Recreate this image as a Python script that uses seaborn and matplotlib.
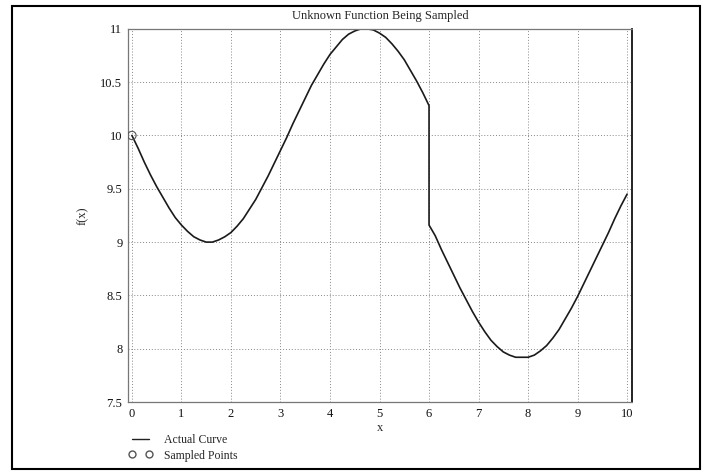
import matplotlib
matplotlib.use("Agg")
import matplotlib.pyplot as plt
import seaborn as sns
import pandas as pd
from matplotlib.patches import Rectangle
from matplotlib.lines import Line2D

# Curve values (jump at x = 6)
curve_x = [0, 0.125, 0.25, 0.375, 0.5, 0.625, 0.75, 0.875, 1.0, 1.125, 1.25, 1.375,
           1.5, 1.625, 1.75, 1.875, 2.0, 2.125, 2.25, 2.375, 2.5, 2.625, 2.75, 2.875,
           3.0, 3.125, 3.25, 3.375, 3.5, 3.625, 3.75, 3.875, 4.0, 4.125, 4.25, 4.375,
           4.5, 4.625, 4.75, 4.875, 5.0, 5.125, 5.25, 5.375, 5.5, 5.625, 5.75, 5.875,
           6.0,
           6.0, 6.125, 6.25, 6.375, 6.5, 6.625, 6.75, 6.875, 7.0, 7.125, 7.25, 7.375,
           7.5, 7.625, 7.75, 7.875, 8.0, 8.125, 8.25, 8.375, 8.5, 8.625, 8.75, 8.875,
           9.0, 9.125, 9.25, 9.375, 9.5, 9.625, 9.75, 9.875, 10.0]
curve_y = [10.0, 9.88, 9.75, 9.63, 9.52, 9.42, 9.32, 9.23, 9.16, 9.10, 9.05, 9.02,
           9.0, 9.0, 9.02, 9.05, 9.09, 9.15, 9.22, 9.31, 9.40, 9.51, 9.62, 9.74,
           9.86, 9.98, 10.11, 10.23, 10.35, 10.47, 10.57, 10.67, 10.76, 10.83, 10.9, 10.95,
           10.98, 11.0, 11.0, 10.99, 10.96, 10.92, 10.86, 10.79, 10.71, 10.61, 10.51, 10.4,
           10.28,
           9.16, 9.06, 8.93, 8.81, 8.69, 8.57, 8.46, 8.35, 8.25, 8.16, 8.08, 8.02,
           7.97, 7.94, 7.92, 7.92, 7.92, 7.94, 7.98, 8.03, 8.10, 8.18, 8.28, 8.38,
           8.49, 8.61, 8.73, 8.85, 8.97, 9.09, 9.22, 9.34, 9.45]
sample_x = [0]
sample_y = [10.0]

x_ticks = [0, 1, 2, 3, 4, 5, 6, 7, 8, 9, 10]
y_ticks = [7.5, 8, 8.5, 9, 9.5, 10, 10.5, 11]
y_tick_labels = ["7.5", "8", "8.5", "9", "9.5", "10", "10.5", "11"]

sns.set_style("white")
plt.rcParams['font.family'] = ['Liberation Serif', 'DejaVu Serif']

fig = plt.figure(figsize=(7.07, 4.73), dpi=100)
ax = fig.add_axes([0.181, 0.150, 0.713, 0.789])

curve_df = pd.DataFrame({"x": curve_x, "y": curve_y})
ax.plot(curve_df["x"], curve_df["y"], color="#1a1a1a", lw=1.2)
sns.scatterplot(x=sample_x, y=sample_y, ax=ax, marker="o", s=36,
                facecolor="none", edgecolor="#555555", linewidth=0.8, zorder=5)

ax.set_xlim(-0.08, 10.1)
ax.set_ylim(7.5, 11)
ax.set_xticks(x_ticks)
ax.set_yticks(y_ticks)
ax.set_yticklabels(y_tick_labels)
ax.tick_params(length=0, labelsize=9, pad=4, colors="#111111")
ax.grid(True, linestyle=(0, (1, 2)), color="#888888", lw=0.7)

for s in ["top", "left", "bottom"]:
    ax.spines[s].set_color("#777777")
    ax.spines[s].set_linestyle((0, (1, 1)))
    ax.spines[s].set_linewidth(0.9)
ax.spines["right"].set_color("#111111")
ax.spines["right"].set_linewidth(1.3)

ax.set_title("Unknown Function Being Sampled", fontsize=9, pad=7)
ax.set_xlabel("x", fontsize=9, labelpad=2)
ax.set_ylabel("f(x)", fontsize=9, labelpad=8)

handles = [Line2D([0], [0], color="#222222", lw=1),
           Line2D([0], [0], color="none", marker="o", markerfacecolor="none",
                  markeredgecolor="#555555", markersize=5)]
fig.legend(handles, ["Actual Curve", "Sampled Points"], loc="upper left",
           bbox_to_anchor=(0.174, 0.095), frameon=False, fontsize=8.5,
           handlelength=2.0, handletextpad=1.0, labelspacing=0.3, borderpad=0,
           numpoints=2)

fig.patches.append(Rectangle((0.017, 0.008), 0.973, 0.98, transform=fig.transFigure,
                             fill=False, edgecolor="black", lw=1.5))

fig.savefig("out.png", dpi=100)
